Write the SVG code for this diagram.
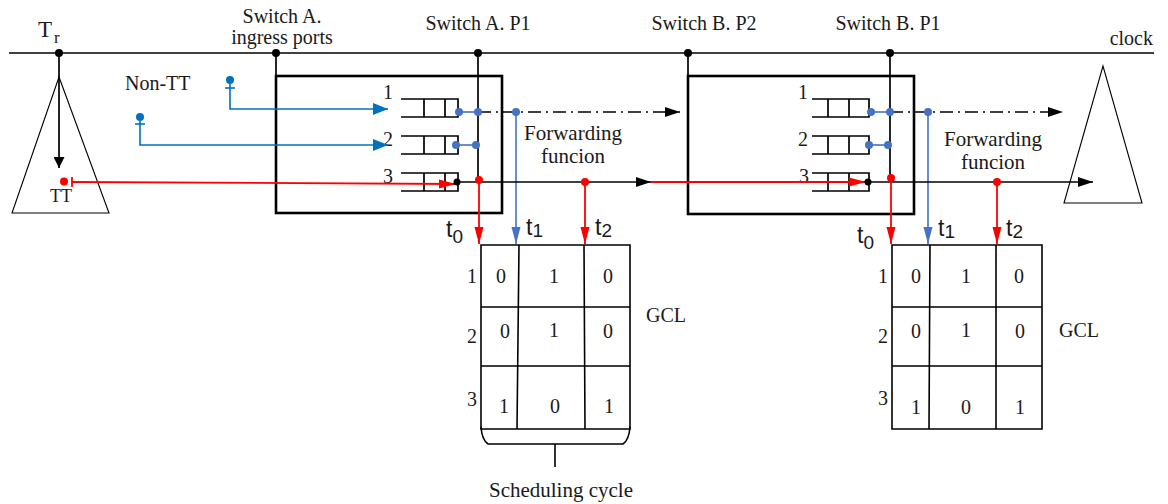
<svg xmlns="http://www.w3.org/2000/svg" width="1168" height="504" viewBox="0 0 1168 504">
  <defs>
    <style>
      text{font-family:"Liberation Serif","Times New Roman",serif;font-size:20px;fill:#1a1a1a}
      .big{font-size:21px}
      .sans{font-family:"Liberation Sans",Arial,sans-serif;font-size:23px}
      .sub{font-size:19px}
      .mid{text-anchor:middle}
      .end{text-anchor:end}
      .ln{stroke:#000;stroke-width:1.7;fill:none}
      .box{stroke:#000;stroke-width:2.6;fill:none}
      .thin{stroke:#000;stroke-width:1.1;fill:#fff}
      .q{stroke:#000;stroke-width:1.7;fill:none}
      .grid{stroke:#000;stroke-width:1.6;fill:none}
      .red{stroke:#f00;stroke-width:1.8;fill:none}
      .blue{stroke:#4472c4;stroke-width:1.6;fill:none}
      .ntt{stroke:#0070c0;stroke-width:1.6;fill:none}
      .dd{stroke-dasharray:13 5 2 5}
      .kd{fill:#000}
      .rd{fill:#f00}
      .bd{fill:#4472c4}
      .nd{fill:#0070c0}
    </style>
    <!-- arrowheads, sized in user units so the tip sits on the line end -->
    <marker id="ak" markerUnits="userSpaceOnUse" viewBox="0 0 15 10" markerWidth="15" markerHeight="10" refX="15" refY="5" orient="auto"><path d="M0,0L15,5L0,10z" fill="#000"/></marker>
    <marker id="aks" markerUnits="userSpaceOnUse" viewBox="0 0 11 11" markerWidth="11" markerHeight="11" refX="11" refY="5.5" orient="auto"><path d="M0,0L11,5.5L0,11z" fill="#000"/></marker>
    <marker id="ar" markerUnits="userSpaceOnUse" viewBox="0 0 17 10" markerWidth="17" markerHeight="10" refX="17" refY="5" orient="auto"><path d="M0,0.5L17,5L0,9.5z" fill="#f00"/></marker>
    <marker id="ab" markerUnits="userSpaceOnUse" viewBox="0 0 17 10" markerWidth="17" markerHeight="10" refX="17" refY="5" orient="auto"><path d="M0,0.5L17,5L0,9.5z" fill="#4472c4"/></marker>
    <marker id="an" markerUnits="userSpaceOnUse" viewBox="0 0 15 12" markerWidth="15" markerHeight="12" refX="15" refY="6" orient="auto"><path d="M0,0L15,6L0,12z" fill="#0070c0"/></marker>
  </defs>
  <rect width="1168" height="504" fill="#fff"/>

  <!-- clock reference line -->
  <g id="clock">
    <line class="ln" x1="9" y1="53" x2="1154" y2="53"/>
    <text x="38" y="37" style="font-size:23px">T</text>
    <text x="54" y="43" style="font-size:17px">r</text>
    <text class="end" x="1153" y="45">clock</text>
    <circle class="kd" cx="59" cy="53" r="4"/>
    <circle class="kd" cx="276" cy="53" r="4"/>
    <circle class="kd" cx="478" cy="53" r="4"/>
    <circle class="kd" cx="688" cy="53" r="4"/>
    <circle class="kd" cx="890" cy="53" r="4"/>
    <text class="mid" x="282" y="23">Switch A.</text>
    <text class="mid" x="282" y="44">ingress ports</text>
    <text class="mid" x="478" y="30">Switch A. P1</text>
    <text class="mid" x="704" y="30">Switch B. P2</text>
    <text class="mid" x="888" y="30">Switch B. P1</text>
  </g>

  <!-- talker (left) and listener (right) -->
  <g id="talker">
    <polygon class="thin" points="59,77 12,213 109,213"/>
    <text class="mid" x="61" y="202" style="font-size:18px">TT</text>
  </g>
  <g id="listener">
    <polygon class="thin" points="1103,66 1064,203 1142,203"/>
  </g>

  <text x="125" y="90">Non-TT</text>

  <!-- switch A -->
  <g id="switchA">
    <rect class="box" x="276" y="76" width="226" height="137"/>
    <path class="q" d="M401,99H458V117H401M424,99V117M445,99V117"/>
    <path class="q" d="M401,136H458V154H401M424,136V154M445,136V154"/>
    <path class="q" d="M401,173H458V191H401M424,173V191M445,173V191"/>
    <text class="mid" x="388" y="99">1</text>
    <text class="mid" x="388" y="146">2</text>
    <text class="mid" x="388" y="183">3</text>
    <text class="mid big" x="573" y="140">Forwarding</text>
    <text class="mid big" x="573" y="163">funcion</text>
  </g>

  <!-- switch B -->
  <g id="switchB">
    <rect class="box" x="688" y="76" width="226" height="138"/>
    <path class="q" d="M812,99H869V117H812M828,99V117M849,99V117"/>
    <path class="q" d="M812,136H869V154H812M828,136V154M849,136V154"/>
    <path class="q" d="M812,173H869V191H812M828,173V191M849,173V191"/>
    <text class="mid" x="803" y="99">1</text>
    <text class="mid" x="803" y="146">2</text>
    <text class="mid" x="804" y="183">3</text>
    <text class="mid big" x="993" y="146">Forwarding</text>
    <text class="mid big" x="993" y="169">funcion</text>
  </g>

  <!-- gate control list A -->
  <g id="gclA">
    <path class="grid" d="M481,245H630V429H481Z M481,307H630 M481,366H630 M519,245L517,429 M584,245L585,429"/>
    <path class="grid" d="M481,427Q482,440 488,444H623Q629,440 630,427 M555,444V467"/>
    <text class="mid" x="472" y="283">1</text>
    <text class="mid" x="472" y="343">2</text>
    <text class="mid" x="472" y="406">3</text>
    <text class="mid" x="501" y="283">0</text>
    <text class="mid" x="554" y="283">1</text>
    <text class="mid" x="608" y="283">0</text>
    <text class="mid" x="505" y="338">0</text>
    <text class="mid" x="554" y="337">1</text>
    <text class="mid" x="608" y="338">0</text>
    <text class="mid" x="504" y="413">1</text>
    <text class="mid" x="555" y="413">0</text>
    <text class="mid" x="609" y="413">1</text>
    <text x="646" y="322">GCL</text>
    <text class="mid big" x="561" y="497">Scheduling cycle</text>
    <text class="sans" x="446" y="237">t<tspan class="sub" dy="6">0</tspan></text>
    <text class="sans" x="526" y="235">t<tspan class="sub" dy="2">1</tspan></text>
    <text class="sans" x="595" y="235">t<tspan class="sub" dy="2">2</tspan></text>
  </g>

  <!-- gate control list B -->
  <g id="gclB">
    <path class="grid" d="M892,245H1042V429H892Z M892,307H1042 M892,366H1042 M930,245L929,429 M996,245L996,429"/>
    <text class="mid" x="883" y="283">1</text>
    <text class="mid" x="883" y="343">2</text>
    <text class="mid" x="883" y="405">3</text>
    <text class="mid" x="916" y="283">0</text>
    <text class="mid" x="966" y="283">1</text>
    <text class="mid" x="1019" y="283">0</text>
    <text class="mid" x="916" y="338">0</text>
    <text class="mid" x="966" y="337">1</text>
    <text class="mid" x="1020" y="338">0</text>
    <text class="mid" x="916" y="414">1</text>
    <text class="mid" x="966" y="414">0</text>
    <text class="mid" x="1020" y="414">1</text>
    <text x="1059" y="337">GCL</text>
    <text class="sans" x="857" y="243">t<tspan class="sub" dy="6">0</tspan></text>
    <text class="sans" x="938" y="236">t<tspan class="sub" dy="2">1</tspan></text>
    <text class="sans" x="1006" y="236">t<tspan class="sub" dy="2">2</tspan></text>
  </g>

  <!-- connectors -->
  <g id="connectors">
    <!-- clock taps -->
    <line class="ln" x1="59" y1="53" x2="59" y2="168" marker-end="url(#aks)"/>
    <line class="ln" x1="276" y1="53" x2="276" y2="76"/>
    <line class="ln" x1="478" y1="53" x2="478" y2="181"/>
    <line class="ln" x1="688" y1="53" x2="688" y2="76"/>
    <line class="ln" x1="890" y1="53" x2="890" y2="178"/>

    <!-- non-TT sources -->
    <circle class="nd" cx="230" cy="80" r="4"/>
    <line class="ntt" x1="225" y1="88" x2="235" y2="88"/>
    <path class="ntt" d="M230,84V109H388" marker-end="url(#an)"/>
    <circle class="nd" cx="140" cy="117" r="4"/>
    <line class="ntt" x1="135" y1="124" x2="145" y2="124"/>
    <path class="ntt" d="M140,121V145H388" marker-end="url(#an)"/>

    <!-- TT stream -->
    <line class="red" x1="72" y1="182" x2="456" y2="184" marker-end="url(#ar)"/>
    <line class="red" x1="72" y1="177" x2="72" y2="187"/>
    <circle class="rd" cx="64" cy="181.5" r="4"/>

    <!-- switch A egress -->
    <line class="blue" x1="459" y1="112" x2="478" y2="112"/>
    <line class="ln dd" x1="478" y1="112" x2="680" y2="112" marker-end="url(#ak)"/>
    <circle class="bd" cx="459" cy="112" r="4"/>
    <circle class="bd" cx="478" cy="112" r="4"/>
    <line class="blue" x1="516" y1="112" x2="516" y2="244" marker-end="url(#ab)"/>
    <circle class="bd" cx="516" cy="112" r="4"/>
    <line class="blue" x1="456" y1="145" x2="476" y2="145"/>
    <circle class="bd" cx="456" cy="145" r="4"/>
    <circle class="bd" cx="476" cy="145" r="4"/>
    <line class="ln" x1="457" y1="182" x2="651" y2="182" marker-end="url(#ak)"/>
    <circle class="kd" cx="457" cy="182" r="3.5"/>
    <line class="red" x1="479" y1="181" x2="479" y2="244" marker-end="url(#ar)"/>
    <circle class="rd" cx="479" cy="180" r="4"/>
    <line class="red" x1="585" y1="182" x2="585" y2="244" marker-end="url(#ar)"/>
    <circle class="rd" cx="585" cy="182" r="4"/>

    <!-- link A to B -->
    <line class="red" x1="651" y1="182" x2="866" y2="182" marker-end="url(#ar)"/>

    <!-- switch B egress -->
    <line class="blue" x1="871" y1="112" x2="890" y2="112"/>
    <line class="ln dd" x1="890" y1="112" x2="1063" y2="112" marker-end="url(#ak)"/>
    <circle class="bd" cx="871" cy="112" r="4"/>
    <circle class="bd" cx="890" cy="112" r="4"/>
    <line class="blue" x1="928" y1="112" x2="928" y2="244" marker-end="url(#ab)"/>
    <circle class="bd" cx="928" cy="112" r="4"/>
    <line class="blue" x1="869" y1="145" x2="888" y2="145"/>
    <circle class="bd" cx="869" cy="145" r="4"/>
    <circle class="bd" cx="888" cy="145" r="4"/>
    <line class="ln" x1="868" y1="182" x2="1093" y2="182" marker-end="url(#ak)"/>
    <circle class="kd" cx="868" cy="182" r="3.5"/>
    <line class="red" x1="891" y1="178" x2="891" y2="244" marker-end="url(#ar)"/>
    <circle class="rd" cx="891" cy="178" r="4"/>
    <line class="red" x1="997" y1="182" x2="997" y2="244" marker-end="url(#ar)"/>
    <circle class="rd" cx="997" cy="182" r="4"/>
  </g>
</svg>
